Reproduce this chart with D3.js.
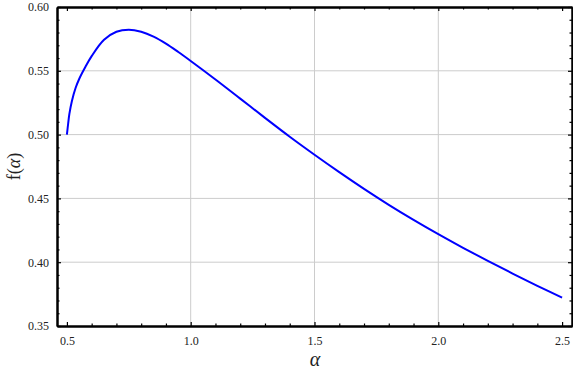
<!DOCTYPE html>
<html lang="en">
<head>
<meta charset="UTF-8">
<title>f(alpha)</title>
<style>
    body { margin: 0; background: #fff; }
    svg text { font-family: 'Liberation Serif', 'Times New Roman', Times, 'DejaVu Serif', serif; }
</style>
</head>
<body>
<svg id="chart" width="573" height="374"></svg>
<script src="https://cdn.jsdelivr.net/npm/d3@7"></script>
<script>
// values
var alphas = [0.50, 0.505, 0.51, 0.52, 0.535, 0.55, 0.575, 0.60, 0.65, 0.70, 0.75, 0.80, 0.85, 0.90, 0.95, 1.00,
    1.10, 1.20, 1.30, 1.40, 1.50, 1.60, 1.70, 1.80, 1.90, 2.00, 2.10, 2.20, 2.30, 2.40, 2.50];
var fvals = [0.500, 0.5085, 0.5162, 0.5262, 0.5365, 0.5438, 0.5532, 0.5615, 0.5743, 0.5806, 0.5822, 0.5806, 0.5768, 0.5713, 0.5647, 0.5577,
    0.5432, 0.5282, 0.5131, 0.4983, 0.4842, 0.4706, 0.4575, 0.4450, 0.4332, 0.4220, 0.4113, 0.4010, 0.3911, 0.3815, 0.3722];

var xTicks = [0.5, 1.0, 1.5, 2.0, 2.5];
var yTicks = [0.35, 0.40, 0.45, 0.50, 0.55, 0.60];
var xGrid = [1.0, 1.5, 2.0];
var yGrid = [0.40, 0.45, 0.50, 0.55];

var mLeft = 57, mRight = 572, mTop = 7, mBottom = 326;

var svg = d3.select("#chart");

var x = d3.scaleLinear().domain([0.46, 2.54]).range([mLeft, mRight]);
var y = d3.scaleLinear().domain([0.35, 0.60]).range([mBottom, mTop]);

var xMinor = d3.range(0.5, 2.51, 0.1).filter(v => xTicks.every(t => Math.abs(t - v) > 1e-6));
var yMinor = d3.range(0.35, 0.601, 0.01).filter(v => yTicks.every(t => Math.abs(t - v) > 1e-6));

// grid
svg.append("g").selectAll("line").data(xGrid).enter().append("line")
    .attr("x1", d => x(d)).attr("x2", d => x(d))
    .attr("y1", mTop).attr("y2", mBottom)
    .attr("stroke", "#cccccc").attr("stroke-width", 1);
svg.append("g").selectAll("line").data(yGrid).enter().append("line")
    .attr("x1", mLeft).attr("x2", mRight)
    .attr("y1", d => y(d)).attr("y2", d => y(d))
    .attr("stroke", "#cccccc").attr("stroke-width", 1);

// curve
var line = d3.line()
    .x((d, i) => x(alphas[i]))
    .y(d => y(d))
    .curve(d3.curveCatmullRom);

svg.append("path")
    .datum(fvals)
    .attr("d", line)
    .attr("fill", "none")
    .attr("stroke", "#0000ff")
    .attr("stroke-width", 2);

// axes with inward ticks, frame on all four sides
function addAxis(axis, transform) {
    var g = svg.append("g").attr("transform", transform).call(axis);
    g.attr("font-family", null).attr("font-size", 12);
    g.select(".domain").attr("stroke", "#000").attr("stroke-width", 2);
    g.selectAll(".tick line").attr("stroke", "#000").attr("stroke-width", 1.2);
    g.selectAll("text").attr("fill", "#222");
    return g;
}

var fmtX = d3.format(".1f"), fmtY = d3.format(".2f");

addAxis(d3.axisBottom(x).tickValues(xTicks).tickSizeInner(-4).tickSizeOuter(0).tickPadding(10).tickFormat(fmtX),
    "translate(0," + mBottom + ")");
addAxis(d3.axisBottom(x).tickValues(xMinor).tickSizeInner(-2.5).tickSizeOuter(0).tickFormat(""),
    "translate(0," + mBottom + ")");
addAxis(d3.axisTop(x).tickValues(xTicks).tickSizeInner(-4).tickSizeOuter(0).tickFormat(""),
    "translate(0," + mTop + ")");
addAxis(d3.axisTop(x).tickValues(xMinor).tickSizeInner(-2.5).tickSizeOuter(0).tickFormat(""),
    "translate(0," + mTop + ")");

addAxis(d3.axisLeft(y).tickValues(yTicks).tickSizeInner(-4).tickSizeOuter(0).tickPadding(8).tickFormat(fmtY),
    "translate(" + mLeft + ",0)");
addAxis(d3.axisLeft(y).tickValues(yMinor).tickSizeInner(-2.5).tickSizeOuter(0).tickFormat(""),
    "translate(" + mLeft + ",0)");
addAxis(d3.axisRight(y).tickValues(yTicks).tickSizeInner(-4).tickSizeOuter(0).tickFormat(""),
    "translate(" + mRight + ",0)");
addAxis(d3.axisRight(y).tickValues(yMinor).tickSizeInner(-2.5).tickSizeOuter(0).tickFormat(""),
    "translate(" + mRight + ",0)");

// axis labels
svg.append("text")
    .attr("x", (mLeft + mRight) / 2 + 0.5)
    .attr("y", 366)
    .attr("text-anchor", "middle")
    .attr("font-size", 20)
    .attr("font-style", "italic")
    .attr("fill", "#222")
    .text("α");

var yl = svg.append("text")
    .attr("transform", "translate(20," + ((mTop + mBottom) / 2) + ") rotate(-90)")
    .attr("text-anchor", "middle")
    .attr("font-size", 18)
    .attr("fill", "#222");
yl.append("tspan").text("f(");
yl.append("tspan").attr("font-style", "italic").text("α");
yl.append("tspan").text(")");
</script>
</body>
</html>
